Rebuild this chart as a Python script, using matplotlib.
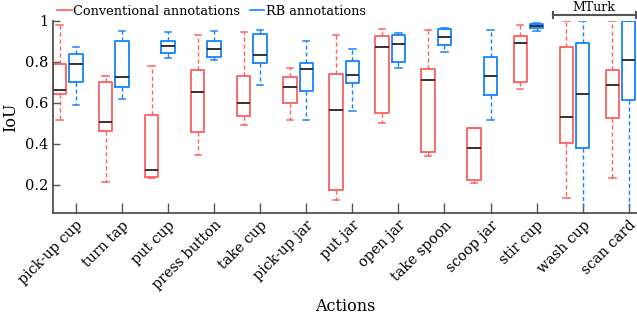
import numpy as np
import matplotlib
matplotlib.use('Agg')
import matplotlib.pyplot as plt

plt.rcParams['font.family'] = 'DejaVu Serif'

actions = ['pick-up cup', 'turn tap', 'put cup', 'press button', 'take cup',
           'pick-up jar', 'put jar', 'open jar', 'take spoon', 'scoop jar',
           'stir cup', 'wash cup', 'scan card']

# conventional annotations (red)
conv_whishi = [0.98, 0.73, 0.78, 0.93, 0.945, 0.77, 0.93, 0.96, 0.955, 0.476, 0.98, 1.0, 1.0]
conv_q3 = [0.79, 0.70, 0.54, 0.76, 0.73, 0.725, 0.74, 0.925, 0.765, 0.476, 0.927, 0.872, 0.761]
conv_med = [0.662, 0.506, 0.27, 0.654, 0.598, 0.676, 0.563, 0.875, 0.709, 0.38, 0.891, 0.533, 0.686]
conv_q1 = [0.642, 0.46, 0.237, 0.455, 0.537, 0.598, 0.172, 0.548, 0.361, 0.223, 0.704, 0.403, 0.525]
conv_whislo = [0.515, 0.211, 0.232, 0.345, 0.493, 0.514, 0.127, 0.501, 0.338, 0.207, 0.667, 0.133, 0.231]

# RB annotations (blue)
rb_whishi = [0.872, 0.953, 0.945, 0.95, 0.958, 0.901, 0.865, 0.94, 0.963, 0.954, 0.992, 1.0, 1.0]
rb_q3 = [0.837, 0.904, 0.902, 0.901, 0.938, 0.793, 0.805, 0.933, 0.961, 0.826, 0.985, 0.894, 1.0]
rb_med = [0.79, 0.725, 0.879, 0.863, 0.833, 0.766, 0.737, 0.885, 0.92, 0.733, 0.977, 0.644, 0.808]
rb_q1 = [0.704, 0.675, 0.842, 0.826, 0.792, 0.657, 0.696, 0.798, 0.88, 0.636, 0.964, 0.379, 0.616]
rb_whislo = [0.587, 0.62, 0.818, 0.81, 0.685, 0.514, 0.561, 0.772, 0.846, 0.515, 0.953, 0.0, 0.0]

red = '#ff5f5f'
blue = '#1482ff'


def make_stats(lo, q1, med, q3, hi):
    return [dict(whislo=a, q1=b, med=c, q3=d, whishi=e, fliers=[])
            for a, b, c, d, e in zip(lo, q1, med, q3, hi)]


def draw(ax, stats, pos, color):
    ax.bxp(stats, positions=pos, widths=0.29, capwidths=0.14, showfliers=False,
           boxprops=dict(color=color, lw=1.3),
           whiskerprops=dict(color=color, lw=1.0, linestyle=(0, (3, 2))),
           capprops=dict(color=color, lw=1.1),
           medianprops=dict(color='#222222', lw=1.3))


fig = plt.figure(figsize=(6.37, 3.17), dpi=100)
ax = fig.add_axes([0.083, 0.327, 0.917, 0.607])

x = np.arange(1, len(actions) + 1)
draw(ax, make_stats(conv_whislo, conv_q1, conv_med, conv_q3, conv_whishi), x - 0.355, red)
draw(ax, make_stats(rb_whislo, rb_q1, rb_med, rb_q3, rb_whishi), x, blue)

ax.set_xlim(0.5, 13.18)
ax.set_ylim(0.06, 1.0)
ax.set_xticks(x)
ax.set_xticklabels(actions, rotation=45, ha='right', rotation_mode='anchor', fontsize=10.3)
ax.set_yticks([0.2, 0.4, 0.6, 0.8, 1.0])
ax.set_yticklabels(['0.2', '0.4', '0.6', '0.8', '1'], fontsize=10.5)
ax.tick_params(direction='in', length=5, width=1, color='#555555')
ax.tick_params(axis='x', length=7)
for s in ['top', 'right']:
    ax.spines[s].set_visible(False)
for s in ['left', 'bottom']:
    ax.spines[s].set_color('#444444')
    ax.spines[s].set_linewidth(1.2)
ax.set_xlabel('Actions', fontsize=11.5)
ax.set_ylabel('IoU', fontsize=11.5, labelpad=4)

# MTurk bracket
ax.plot([11.35, 13.15], [1.029, 1.029], color='#555555', lw=1.5, clip_on=False)
ax.plot([11.35, 11.35], [1.013, 1.045], color='#555555', lw=1.5, clip_on=False)
ax.plot([13.15, 13.15], [1.013, 1.045], color='#555555', lw=1.5, clip_on=False)
ax.text(12.25, 1.068, 'MTurk', ha='center', va='center', fontsize=9, clip_on=False)

h1, = ax.plot([], [], color=red, lw=1.2, label='Conventional annotations')
h2, = ax.plot([], [], color=blue, lw=1.2, label='RB annotations')
fig.legend(handles=[h1, h2], loc='center left', bbox_to_anchor=(0.089, 0.965),
           ncol=2, frameon=False, fontsize=9.3, handlelength=1.15,
           handletextpad=0.15, columnspacing=0.7, borderaxespad=0, borderpad=0)

fig.savefig('out.png', dpi=100)
